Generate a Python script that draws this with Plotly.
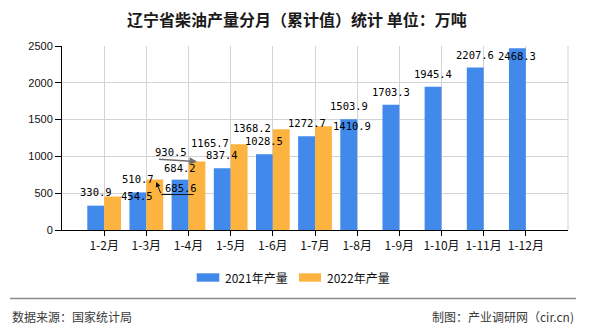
import plotly.graph_objects as go

# ---------------- data ----------------
categories = ["1-2月", "1-3月", "1-4月", "1-5月", "1-6月", "1-7月",
              "1-8月", "1-9月", "1-10月", "1-11月", "1-12月"]
values_2021 = [330.9, 510.7, 684.2, 837.4, 1028.5, 1272.7,
               1503.9, 1703.3, 1945.4, 2207.6, 2468.3]
values_2022 = [454.5, 685.6, 930.5, 1165.7, 1368.2, 1410.9]
series_names = ["2021年产量", "2022年产量"]
y_ticks = [0, 500, 1000, 1500, 2000, 2500]

title_text = "辽宁省柴油产量分月（累计值）统计&nbsp;单位：万吨"
source_text = "数据来源：国家统计局"
maker_text = "制图：产业调研网（cir.cn)"

# ---------------- style ----------------
BLUE = "#4289EC"
ORANGE = "#FCB33F"
GRID = "#D3D3D3"
W, H = 590, 330
ML, MR, MT, MB = 62, 22, 46, 100
PW, PH = W - ML - MR, H - MT - MB
CAT_PX = PW / 12.0          # pixels per category slot
HALF = CAT_PX * 0.8 / 4     # half bar width / bar centre offset

LABEL_FONT = dict(family="DejaVu Sans Mono", size=10.5, color="#000")
CJK = "Noto Sans CJK SC"


def px_x(x):
    return (x - ML) / PW


def px_y(y):
    return (MT + PH - y) / PH


fig = go.Figure()
fig.add_bar(x=categories, y=values_2021, name=series_names[0],
            marker=dict(color=BLUE, line=dict(width=0)))
fig.add_bar(x=categories[:len(values_2022)], y=values_2022, name=series_names[1],
            marker=dict(color=ORANGE, line=dict(width=0)))

ann = []
# labels of 2021 series: above bars (last one pushed down)
blue_yshift = [13.5, 13, 12, 13, 13, 13, 13.5, 12.5, 12.5, 12.5, -7.5]
for c, v, ys in zip(categories, values_2021, blue_yshift):
    ann.append(dict(x=c, y=v, text=f"{v:.1f}", showarrow=False, font=LABEL_FONT,
                    xanchor="center", yanchor="middle",
                    xshift=-HALF, yshift=ys))

# labels of 2022 series: placed beside the bars
orange_side = ["right", "right", "left", "left", "left", "right"]
orange_dx = [-2.5, 0, 0, 0, 0, -0.5]
orange_yshift = [0.3, -8, 9.6, 1.4, 1.5, 0.4]
for c, v, side, dx, ys in zip(categories, values_2022, orange_side, orange_dx, orange_yshift):
    if side == "right":
        xs, xa = 2 * HALF + dx, "left"
    else:
        xs, xa = dx, "right"
    ann.append(dict(x=c, y=v, text=f"{v:.1f}", showarrow=False, font=LABEL_FONT,
                    xanchor=xa, yanchor="middle", xshift=xs, yshift=ys))

# leader lines of displaced labels
ann.append(dict(x=categories[1], y=values_2022[1], text="", showarrow=True,
                arrowhead=2, arrowsize=1, arrowwidth=1, arrowcolor="#111",
                xshift=HALF + 1.5, yshift=-2.4, ax=5, ay=12.6))
ann.append(dict(x=categories[1], y=values_2022[1], text="", showarrow=True,
                arrowhead=0, arrowwidth=1, arrowcolor="#111",
                xshift=HALF + 6.5, yshift=-15, ax=34, ay=0))
ann.append(dict(x=categories[2], y=values_2022[2], text="", showarrow=True,
                arrowhead=2, arrowsize=1, arrowwidth=1.5, arrowcolor="#6E6E6E",
                xshift=HALF, yshift=0, ax=-39.5, ay=-2.3))

# title
ann.append(dict(xref="paper", yref="paper", x=px_x(297), y=px_y(19), text=title_text,
                showarrow=False, xanchor="center", yanchor="middle",
                font=dict(family=CJK, size=16, color="#1a1a1a", weight="bold")))

# custom legend
legend_items = [(196.7, 219.3, 223, BLUE, series_names[0]),
                (299, 321, 325, ORANGE, series_names[1])]
shapes = []
for x0, x1, tx, col, name in legend_items:
    shapes.append(dict(type="rect", xref="paper", yref="paper",
                       x0=px_x(x0), x1=px_x(x1), y0=px_y(281.7), y1=px_y(273.3),
                       fillcolor=col, line=dict(width=0)))
    ann.append(dict(xref="paper", yref="paper", x=px_x(tx), y=px_y(277.5), text=name,
                    showarrow=False, xanchor="left", yanchor="middle",
                    font=dict(family=CJK, size=12, color="#111")))

# footer
shapes.append(dict(type="line", xref="paper", yref="paper",
                   x0=px_x(10), x1=px_x(576), y0=px_y(298.5), y1=px_y(298.5),
                   line=dict(color="#8A8A8A", width=1.5)))
ann.append(dict(xref="paper", yref="paper", x=px_x(10), y=px_y(316.5), text=source_text,
                showarrow=False, xanchor="left", yanchor="middle",
                font=dict(family=CJK, size=12, color="#3a3a3a")))
ann.append(dict(xref="paper", yref="paper", x=px_x(576), y=px_y(316.5), text=maker_text,
                showarrow=False, xanchor="right", yanchor="middle",
                font=dict(family=CJK, size=12, color="#3a3a3a")))

# right border grid line and end ticks of x axis
shapes.append(dict(type="line", xref="paper", yref="paper", x0=1, x1=1, y0=0, y1=1,
                   line=dict(color=GRID, width=1), layer="below"))
for xp in (0, 1):
    shapes.append(dict(type="line", xref="paper", yref="y", ysizemode="pixel",
                       yanchor=0, x0=xp, x1=xp, y0=0, y1=-5,
                       line=dict(color="#000", width=1)))

fig.update_layout(
    width=W, height=H, autosize=False,
    margin=dict(l=ML, r=MR, t=MT, b=MB, pad=0),
    paper_bgcolor="white", plot_bgcolor="white",
    barmode="group", bargap=0.2, bargroupgap=0,
    showlegend=False,
    annotations=ann, shapes=shapes,
    font=dict(family=CJK, size=12, color="#000"),
)
fig.update_xaxes(type="category", range=[-1, len(categories)],
                 showgrid=True, gridcolor=GRID, gridwidth=1,
                 showline=True, linecolor="#000", linewidth=1,
                 ticks="outside", ticklen=5, tickcolor="#000",
                 tickfont=dict(family=CJK, size=12, color="#111"),
                 zeroline=False, fixedrange=True)
fig.update_yaxes(range=[0, 2500], tickvals=y_ticks,
                 showgrid=True, gridcolor=GRID, gridwidth=1,
                 showline=True, linecolor="#000", linewidth=1,
                 ticks="outside", ticklen=6, tickcolor="#000",
                 tickfont=dict(family="Liberation Sans", size=11, color="#111"),
                 zeroline=False, fixedrange=True)

fig.write_html("out.html")
